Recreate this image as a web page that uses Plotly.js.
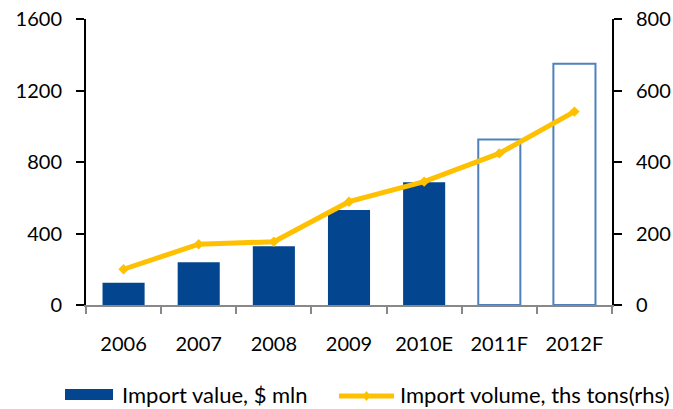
<!DOCTYPE html>
<html>
<head>
<meta charset="utf-8">
<script src="https://cdn.plot.ly/plotly-3.0.1.min.js"></script>
<style>html,body{margin:0;padding:0;background:#fff;}#chart{width:673px;height:409px;}</style>
</head>
<body>
<div id="chart"></div>
<script>
const categories = ['2006', '2007', '2008', '2009', '2010E', '2011F', '2012F'];
const importValue = [125, 239, 328, 531, 687, 926, 1350];
const importVolume = [100, 170, 177, 289, 345, 424, 541];
const forecast = [false, false, false, false, false, true, true];
const seriesNames = ['Import value, $ mln', 'Import volume, ths tons(rhs)'];

const solid = '#03468F';
const outline = '#4F81BD';
const gold = '#FFC000';
const axisFont = {family: 'Lato, "Open Sans", sans-serif', size: 20, color: '#000'};
const legendFont = {family: 'Lato, "Open Sans", sans-serif', size: 22, color: '#000'};

const W = 673, H = 409;
const M = {l: 86, r: 61, t: 19, b: 104};
const PW = W - M.l - M.r, PH = H - M.t - M.b;
// convert page pixels to paper fractions (legend placement only)
const px = x => (x - M.l) / PW;
const py = y => (H - M.b - y) / PH;

const traces = [
  {
    type: 'bar',
    name: seriesNames[0],
    x: categories,
    y: importValue,
    width: 0.56,
    marker: {
      color: forecast.map(f => f ? 'rgba(255,255,255,0)' : solid),
      line: {color: forecast.map(f => f ? outline : solid), width: forecast.map(f => f ? 2 : 0)}
    }
  },
  {
    type: 'scatter',
    mode: 'lines+markers',
    name: seriesNames[1],
    x: categories,
    y: importVolume,
    yaxis: 'y2',
    line: {color: gold, width: 5},
    marker: {symbol: 'diamond', size: 8, color: gold}
  }
];

// hand-drawn legend (wide swatches like the reference)
const legY = 395;
const shapes = [
  {type: 'rect', xref: 'paper', yref: 'paper', x0: px(65), x1: px(113), y0: py(400), y1: py(389),
   fillcolor: solid, line: {width: 0}},
  {type: 'line', xref: 'paper', yref: 'paper', x0: px(339), x1: px(394), y0: py(legY + 1), y1: py(legY + 1),
   line: {color: gold, width: 5}},
  {type: 'path', xref: 'paper', yref: 'paper',
   path: `M ${px(366.5)} ${py(legY - 4)} L ${px(370.5)} ${py(legY + 1)} L ${px(366.5)} ${py(legY + 6)} L ${px(362.5)} ${py(legY + 1)} Z`,
   fillcolor: gold, line: {width: 0}}
];
const annotations = [
  {xref: 'paper', yref: 'paper', x: px(120), y: py(legY), xanchor: 'left', yanchor: 'middle',
   text: seriesNames[0], showarrow: false, font: legendFont},
  {xref: 'paper', yref: 'paper', x: px(398), y: py(legY), xanchor: 'left', yanchor: 'middle',
   text: seriesNames[1], showarrow: false, font: legendFont}
];

const layout = {
  width: W,
  height: H,
  margin: {l: M.l, r: M.r, t: M.t, b: M.b, autoexpand: false},
  paper_bgcolor: '#fff',
  plot_bgcolor: '#fff',
  font: axisFont,
  showlegend: false,
  shapes: shapes,
  annotations: annotations,
  bargap: 0.44,
  xaxis: {
    type: 'category',
    showline: true,
    linecolor: '#888',
    linewidth: 2,
    ticks: 'outside',
    tickson: 'boundaries',
    ticklen: 7,
    tickcolor: '#888',
    tickwidth: 2,
    ticklabelstandoff: 20,
    showgrid: false,
    zeroline: false
  },
  yaxis: {
    range: [0, 1600],
    tickvals: [0, 400, 800, 1200, 1600],
    showline: true,
    linecolor: '#000',
    linewidth: 2,
    ticks: 'outside',
    ticklen: 8,
    tickwidth: 2,
    tickcolor: '#000',
    ticklabelstandoff: 10,
    showgrid: false,
    zeroline: false
  },
  yaxis2: {
    overlaying: 'y',
    side: 'right',
    range: [0, 800],
    tickvals: [0, 200, 400, 600, 800],
    showline: true,
    linecolor: '#000',
    linewidth: 2,
    ticks: 'outside',
    ticklen: 8,
    tickwidth: 2,
    tickcolor: '#000',
    ticklabelstandoff: 10,
    showgrid: false,
    zeroline: false
  }
};

Plotly.newPlot('chart', traces, layout, {displayModeBar: false, staticPlot: true});
</script>
</body>
</html>
